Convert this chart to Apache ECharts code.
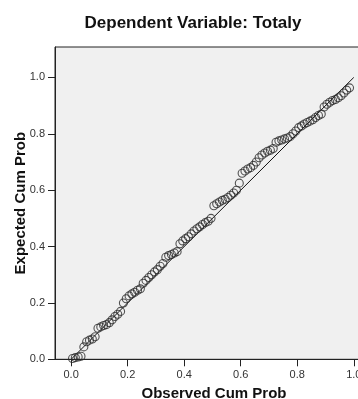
<!DOCTYPE html>
<html><head><meta charset="utf-8">
<script src="https://cdn.jsdelivr.net/npm/echarts@6/dist/echarts.min.js"></script>
<style>html,body{margin:0;padding:0;background:#fff}#c{width:358px;height:399px}</style>
</head><body><div id="c"></div>
<script>
var titleText = 'Dependent Variable: Totaly';
var xName = 'Observed Cum Prob';
var yName = 'Expected Cum Prob';
var tickValues = [0, 0.2, 0.4, 0.6, 0.8, 1.0];
var refLine = [[0, 0], [1, 1]];
var obsX = [0.005,0.015,0.025,0.035,0.045,0.055,0.065,0.075,0.085,0.095,
  0.105,0.115,0.125,0.135,0.145,0.155,0.165,0.175,0.185,0.195,
  0.205,0.215,0.225,0.235,0.245,0.255,0.265,0.275,0.285,0.295,
  0.305,0.315,0.325,0.335,0.345,0.355,0.365,0.375,0.385,0.395,
  0.405,0.415,0.425,0.435,0.445,0.455,0.465,0.475,0.485,0.495,
  0.505,0.515,0.525,0.535,0.545,0.555,0.565,0.575,0.585,0.595,
  0.605,0.615,0.625,0.635,0.645,0.655,0.665,0.675,0.685,0.695,
  0.705,0.715,0.725,0.735,0.745,0.755,0.765,0.775,0.785,0.795,
  0.805,0.815,0.825,0.835,0.845,0.855,0.865,0.875,0.885,0.895,
  0.905,0.915,0.925,0.935,0.945,0.955,0.965,0.975,0.985];
var expY = [0.003,0.006,0.008,0.011,0.044,0.062,0.068,0.072,0.080,0.110,
  0.115,0.120,0.123,0.130,0.140,0.152,0.160,0.170,0.200,0.215,
  0.225,0.232,0.238,0.245,0.250,0.270,0.280,0.290,0.300,0.310,
  0.318,0.330,0.340,0.362,0.368,0.372,0.377,0.382,0.410,0.420,
  0.428,0.435,0.445,0.455,0.463,0.470,0.478,0.485,0.490,0.500,
  0.545,0.552,0.558,0.564,0.568,0.574,0.582,0.590,0.600,0.625,
  0.660,0.668,0.675,0.680,0.688,0.700,0.715,0.725,0.732,0.738,
  0.742,0.748,0.770,0.775,0.778,0.782,0.785,0.790,0.800,0.810,
  0.822,0.828,0.835,0.840,0.845,0.850,0.858,0.865,0.870,0.895,
  0.905,0.912,0.918,0.922,0.928,0.935,0.945,0.955,0.963];

var pts = obsX.map(function(x, i){ return [x, expY[i]]; });
var font = '"Liberation Sans", Arial, sans-serif';
var chart = echarts.init(document.getElementById('c'), null, {renderer:'canvas'});
chart.setOption({
  animation: false,
  backgroundColor: '#ffffff',
  title: {
    text: titleText, left: 188, top: 10, textAlign: 'center',
    textStyle: {fontFamily: font, fontSize: 17, fontWeight: 'bold', color: '#111'}
  },
  grid: {
    left: 55, top: 47, width: 318, height: 312.3,
    outerBoundsMode: 'none', containLabel: false,
    show: true, backgroundColor: '#f0f0f0', borderColor: '#222', borderWidth: 1
  },
  xAxis: {
    type: 'value', min: -0.057, max: 1.068,
    name: xName, nameLocation: 'middle', nameGap: 27, nameMoveOverlap: false,
    nameTextStyle: {fontFamily: font, fontSize: 15, fontWeight: 'bold', color: '#111'},
    axisLine: {show: true, onZero: false, lineStyle: {color: '#222', width: 1}},
    axisTick: {show: true, length: 7, customValues: tickValues, lineStyle: {color: '#222'}},
    axisLabel: {customValues: tickValues, margin: 10, fontFamily: font, fontSize: 11, color: '#333',
      formatter: function(v){ return v.toFixed(1); }},
    splitLine: {show: false}
  },
  yAxis: {
    type: 'value', min: 0, max: 1.108,
    name: yName, nameLocation: 'middle', nameGap: 27, nameMoveOverlap: false,
    nameTextStyle: {fontFamily: font, fontSize: 15, fontWeight: 'bold', color: '#111'},
    axisLine: {show: true, onZero: false, lineStyle: {color: '#222', width: 1}},
    axisTick: {show: true, length: 7, customValues: tickValues, lineStyle: {color: '#222'}},
    axisLabel: {customValues: tickValues, margin: 10, fontFamily: font, fontSize: 11, color: '#333',
      formatter: function(v){ return v.toFixed(1); }},
    splitLine: {show: false}
  },
  series: [
    {
      type: 'line', data: refLine, symbol: 'none', silent: true,
      lineStyle: {color: '#111', width: 1}, z: 2
    },
    {
      type: 'scatter', data: pts, symbol: 'circle', symbolSize: 8,
      itemStyle: {color: 'rgba(0,0,0,0)', borderColor: '#2a2a2a', borderWidth: 1.1}, z: 3
    }
  ]
});
</script>
</body></html>
